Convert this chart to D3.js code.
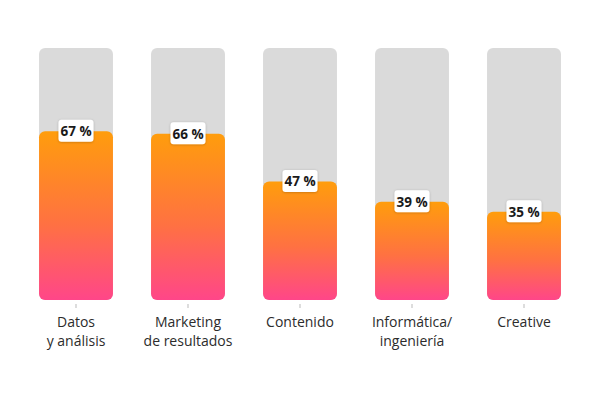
<!DOCTYPE html>
<html>
<head>
<meta charset="utf-8">
<script src="https://cdn.jsdelivr.net/npm/d3@7"></script>
<style>
  body { margin: 0; background: #fff; }
  text { font-family: "Open Sans", "Noto Sans", sans-serif; }
</style>
</head>
<body>
<div id="chart"></div>
<script>
// skill shares
const categories = ['Datos|y análisis', 'Marketing|de resultados', 'Contenido', 'Informática/|ingeniería', 'Creative'];
const values = [67, 66, 47, 39, 35];

const FRAME_WIDTH = 600;
const FRAME_HEIGHT = 400;
const MARGINS = {left: 20, right: 20, top: 48, bottom: 100};

const svg = d3.select('#chart')
  .append('svg')
    .attr('width', FRAME_WIDTH)
    .attr('height', FRAME_HEIGHT);

const xscale = d3.scaleBand()
  .domain(categories)
  .range([MARGINS.left, FRAME_WIDTH - MARGINS.right])
  .paddingInner(0.34)
  .paddingOuter(0.17);

const yscale = d3.scaleLinear()
  .domain([0, 100])
  .range([FRAME_HEIGHT - MARGINS.bottom, MARGINS.top]);

const defs = svg.append('defs');
const grad = defs.append('linearGradient')
  .attr('id', 'barGrad')
  .attr('x1', 0).attr('y1', 0).attr('x2', 0).attr('y2', 1);
grad.append('stop').attr('offset', '0%').attr('stop-color', '#ff9d0c');
grad.append('stop').attr('offset', '55%').attr('stop-color', '#ff7142');
grad.append('stop').attr('offset', '100%').attr('stop-color', '#ff4689');

const shadow = defs.append('filter').attr('id', 'shadow')
  .attr('x', '-30%').attr('y', '-30%').attr('width', '160%').attr('height', '160%');
shadow.append('feDropShadow')
  .attr('dx', 0).attr('dy', 0.5).attr('stdDeviation', 1)
  .attr('flood-color', '#000').attr('flood-opacity', 0.25);

// background tracks
svg.selectAll('.track')
  .data(categories)
  .enter()
  .append('rect')
    .attr('class', 'track')
    .attr('x', (d) => xscale(d))
    .attr('y', yscale(100))
    .attr('width', xscale.bandwidth())
    .attr('height', yscale(0) - yscale(100))
    .attr('rx', 6)
    .attr('fill', '#dadada');

// value bars
svg.selectAll('.bar')
  .data(values)
  .enter()
  .append('rect')
    .attr('class', 'bar')
    .attr('x', (d, i) => xscale(categories[i]))
    .attr('y', (d) => yscale(d))
    .attr('width', xscale.bandwidth())
    .attr('height', (d) => yscale(0) - yscale(d))
    .attr('rx', 6)
    .attr('fill', 'url(#barGrad)');

// value labels
const labels = svg.selectAll('.lbl')
  .data(values)
  .enter()
  .append('g')
    .attr('class', 'lbl')
    .attr('transform', (d, i) => 'translate(' + (xscale(categories[i]) + xscale.bandwidth() / 2) + ',' + yscale(d) + ')');

labels.append('rect')
  .attr('x', -17.5)
  .attr('y', -11.5)
  .attr('width', 35)
  .attr('height', 22)
  .attr('rx', 3)
  .attr('fill', '#fff')
  .attr('filter', 'url(#shadow)');

labels.append('text')
  .attr('text-anchor', 'middle')
  .attr('dy', '0.36em')
  .attr('font-size', '13.5px')
  .attr('font-weight', 'bold')
  .attr('fill', '#1a1a1a')
  .text((d) => d + ' %');

// axis ticks and category names
const axis = svg.append('g')
  .attr('transform', 'translate(0,' + (yscale(0) + 4) + ')')
  .call(d3.axisBottom(xscale).tickSize(4).tickFormat(''));
axis.select('.domain').remove();
axis.selectAll('line').attr('stroke', '#bbb');

svg.selectAll('.cat')
  .data(categories)
  .enter()
  .append('text')
    .attr('class', 'cat')
    .attr('x', (d) => xscale(d) + xscale.bandwidth() / 2)
    .attr('y', 327)
    .attr('text-anchor', 'middle')
    .attr('font-size', '14px')
    .attr('fill', '#2c2c2c')
    .each(function (d) {
      const parts = d.split('|');
      const t = d3.select(this);
      parts.forEach((p, j) => {
        t.append('tspan')
          .attr('x', xscale(d) + xscale.bandwidth() / 2)
          .attr('dy', j === 0 ? 0 : 19)
          .text(p);
      });
    });
</script>
</body>
</html>
